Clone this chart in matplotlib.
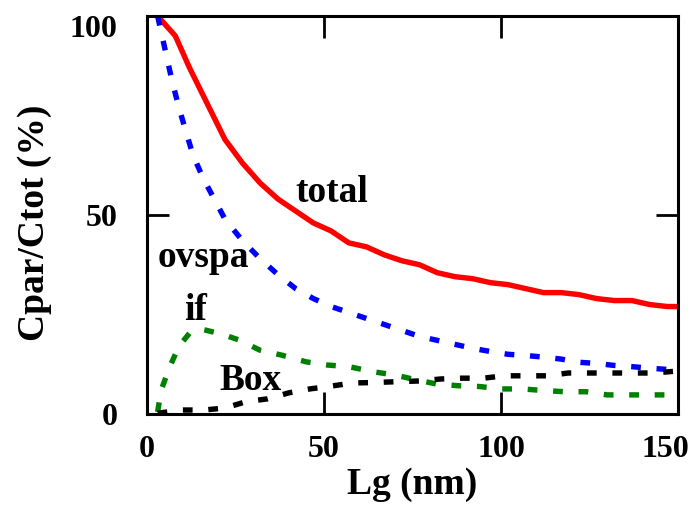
import matplotlib
matplotlib.use("Agg")
import matplotlib.pyplot as plt
import matplotlib.transforms as mtransforms

plt.rcParams['font.family'] = ['Liberation Serif', 'DejaVu Serif']
plt.rcParams['font.weight'] = 'bold'

# Data (Lg in nm, Cpar/Ctot in %)
total_x = [3, 8, 12, 17, 22, 27, 32, 37, 42, 47, 52, 57, 62, 67, 72, 77, 82, 87, 92, 97,
           102, 107, 112, 117, 122, 127, 132, 137, 142, 147, 150]
total_y = [100, 95, 87, 78, 69, 63, 58, 54, 51, 48, 46, 43, 42, 40, 38.5, 37.5, 35.5, 34.5, 34, 33,
           32.5, 31.5, 30.5, 30.5, 30, 29, 28.5, 28.5, 27.5, 27, 27]

ovspa_x = [3, 5, 7, 9, 11, 13, 16, 19, 22, 27, 32, 37, 42, 47, 52, 57, 62, 67, 72, 77,
           82, 87, 92, 97, 102, 107, 112, 117, 122, 127, 132, 137, 142, 147, 150]
ovspa_y = [100, 92, 84, 77, 71, 65, 59, 54, 49, 43.5, 39, 35, 31.5, 29, 27, 25.5, 24, 22.5, 21, 19.5,
           18.5, 17.5, 16.5, 15.7, 15, 14.7, 14.3, 13.8, 13, 12.7, 12.2, 11.9, 11.5, 11.2, 11]

if_x = [3, 4, 6.5, 9, 12, 15.5, 21, 26, 32, 38, 45, 51, 57, 64, 70, 76, 82, 88, 94, 100,
        106, 112, 118, 124, 130, 136, 142, 148, 150]
if_y = [0.5, 6, 12, 17, 20.3, 21.3, 20.1, 18.6, 16, 14.8, 13.1, 12.3, 11.9, 10.6, 9.8, 8.6, 7.5, 7.1, 6.9, 6.3,
        6.3, 5.9, 5.6, 5.6, 4.8, 4.8, 4.8, 4.8, 4.8]

box_x = [3, 10, 16, 22, 28, 34, 40, 46, 52, 58, 64, 70, 77, 83, 89, 95, 101, 107, 113, 119,
         125, 131, 137, 143, 150]
box_y = [0.2, 1, 1, 1.5, 3.1, 3.8, 5.3, 6.3, 7, 7.8, 7.9, 8.1, 8.3, 8.8, 9, 9, 9.6, 9.6, 9.6, 10.3,
         10.3, 10.3, 10.3, 10.3, 10.8]

xticks = [0, 50, 100, 150]
yticks = [0, 50, 100]

fig = plt.figure(figsize=(6.96, 5.11), dpi=100)
ax = fig.add_axes([147/696, 1 - 414/511, (678 - 147)/696, (414 - 16)/511])

lw = 3.9
dash = (0, (1.8, 2.9))
ax.plot(total_x, total_y, color='#ff0000', lw=lw, solid_joinstyle='round')
ax.plot(ovspa_x, ovspa_y, color='#0000ff', lw=lw, linestyle=dash, dash_capstyle='butt')
ax.plot(if_x, if_y, color='#008000', lw=lw, linestyle=dash, dash_capstyle='butt')
ax.plot(box_x, box_y, color='#000000', lw=lw, linestyle=dash, dash_capstyle='butt')

ax.set_xlim(0, 150)
ax.set_ylim(0, 100)
ax.set_xticks(xticks)
ax.set_yticks(yticks)
ax.tick_params(direction='in', length=16, width=2, top=True, right=True, labelsize=23)
ax.tick_params(axis='x', pad=15)
ax.tick_params(axis='y', pad=21)
for lab in ax.get_xticklabels() + ax.get_yticklabels():
    lab.set_fontweight('bold')
for s in ax.spines.values():
    s.set_linewidth(2.2)

# small gnuplot-like label offsets at the corners
xl = ax.get_xticklabels()
xl[-1].set_transform(xl[-1].get_transform() +
                     mtransforms.ScaledTranslation(-9/72, 0, fig.dpi_scale_trans))
yl = ax.get_yticklabels()
yl[-1].set_transform(yl[-1].get_transform() +
                     mtransforms.ScaledTranslation(0, -7/72, fig.dpi_scale_trans))

ax.set_xlabel('Lg (nm)', fontsize=27, fontweight='bold', labelpad=2)
ax.set_ylabel('Cpar/Ctot (%)', fontsize=27, fontweight='bold')
ax.yaxis.set_label_coords(-0.178, 0.48)

fs = 27
ax.text(52.3, 53.3, 'total', fontsize=fs, fontweight='bold', ha='center', va='baseline')
ax.text(15.8, 36.9, 'ovspa', fontsize=fs, fontweight='bold', ha='center', va='baseline')
ax.text(13.6, 23.6, 'if', fontsize=fs, fontweight='bold', ha='center', va='baseline')
ax.text(29.2, 6.0, 'Box', fontsize=fs, fontweight='bold', ha='center', va='baseline')

fig.savefig('out.png', dpi=100)
